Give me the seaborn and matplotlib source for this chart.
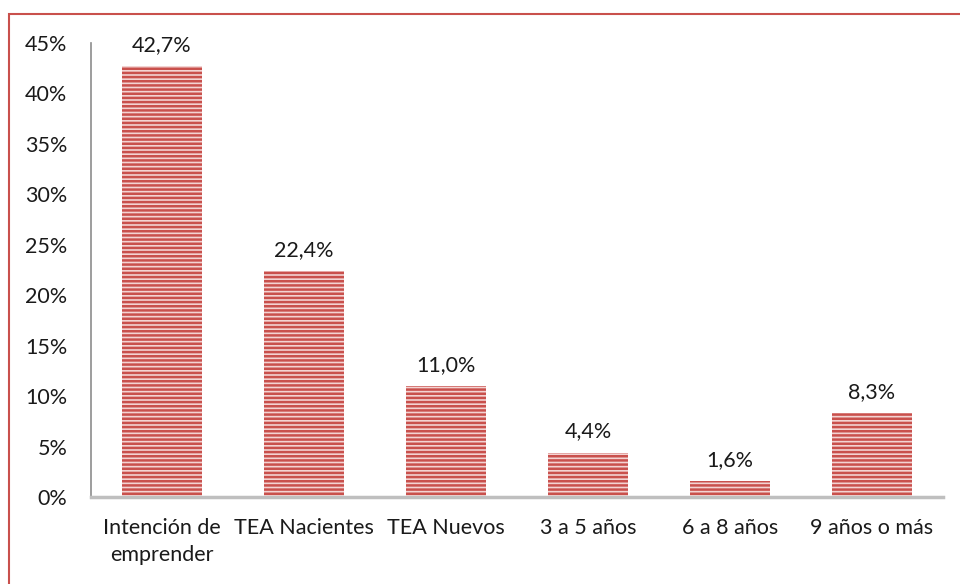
import pandas as pd
import numpy as np
import seaborn as sns
import matplotlib.pyplot as plt
from matplotlib.patches import Rectangle

categorias = ["Intención de\nemprender", "TEA Nacientes", "TEA Nuevos",
              "3 a 5 años", "6 a 8 años", "9 años o más"]
valores = [42.7, 22.4, 11.0, 4.4, 1.6, 8.3]
etiquetas = ["42,7%", "22,4%", "11,0%", "4,4%", "1,6%", "8,3%"]

sns.set_style("white")
plt.rcParams["font.family"] = ["Lato", "DejaVu Sans"]
plt.rcParams["hatch.linewidth"] = 1.8

df = pd.DataFrame({"cat": categorias, "val": valores})

fig = plt.figure(figsize=(9.6, 5.84), dpi=100)
ax = fig.add_axes([91/960, 87/584, 852/960, 454/584])

sns.barplot(data=df, x="cat", y="val", ax=ax, color="#f3d3d2",
            edgecolor="#c9504c", linewidth=0, hatch="----",
            saturation=1, width=0.57)

ax.bar_label(ax.containers[0], labels=etiquetas, padding=8, fontsize=15.5,
             color="#1a1a1a")

ax.set_ylim(0, 45)
ax.set_xlim(-0.5, 5.5)
ax.set_yticks(np.arange(0, 46, 5))
ax.set_yticklabels([f"{v}%" for v in range(0, 46, 5)])
ax.set_xlabel("")
ax.set_ylabel("")
ax.tick_params(axis="y", length=0, pad=17, labelsize=15.5, labelcolor="#1a1a1a")
ax.tick_params(axis="x", length=0, pad=15, labelsize=15.5, labelcolor="#1a1a1a")
for t in ax.get_xticklabels():
    t.set_linespacing(1.45)

for s in ["top", "right"]:
    ax.spines[s].set_visible(False)
ax.spines["left"].set_color("#8c8c8c")
ax.spines["left"].set_linewidth(1.2)
ax.spines["bottom"].set_color("#bfbfbf")
ax.spines["bottom"].set_linewidth(2.5)

# marco rojo de la figura
fig.patches.append(Rectangle((9/960, -0.05), 1.2, (584 - 14)/584 + 0.05,
                             transform=fig.transFigure, fill=False,
                             edgecolor="#c9504c", linewidth=1.5))

fig.savefig("out.png", dpi=100)
